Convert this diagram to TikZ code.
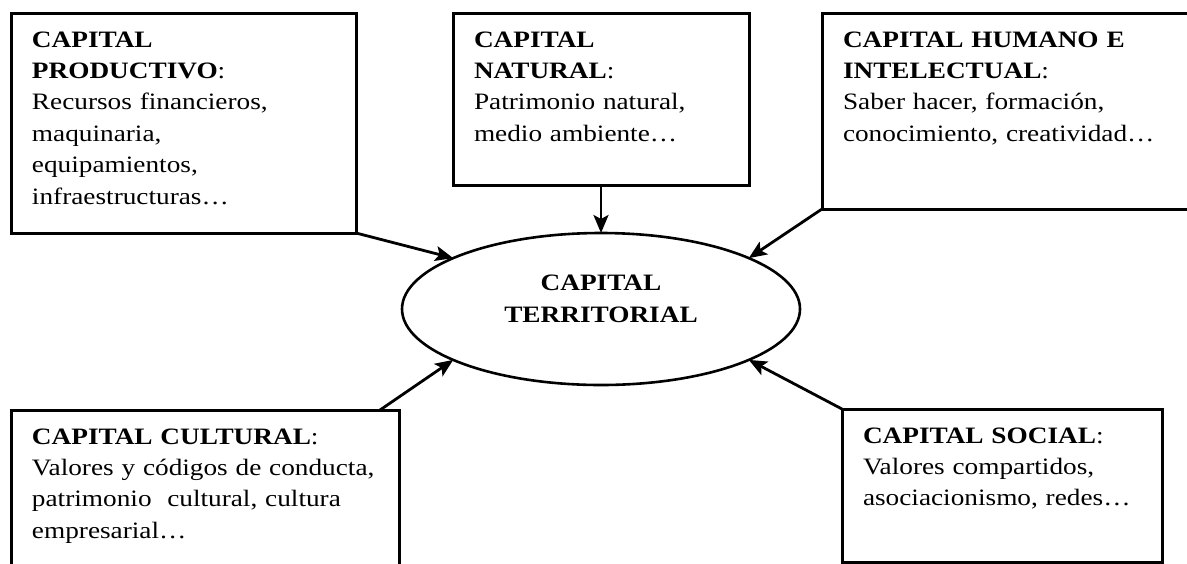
\documentclass[tikz,border=0pt]{standalone}
\usepackage{fontspec}
\setmainfont{Liberation Serif}[FakeStretch=1.16]
\usetikzlibrary{arrows.meta, shapes.geometric}

\begin{document}
\begin{tikzpicture}[
  x=0.5pt, y=-0.5pt,
  box/.style={draw, line width=1.5pt, outer sep=0pt, anchor=north west, align=left, inner xsep=10.5pt, inner ysep=0pt, text height=17pt, font=\fontsize{11.75}{15.7}\selectfont},
  hub/.style={draw, ellipse, line width=1.3pt, outer sep=0pt, minimum width=199pt, minimum height=76pt, inner sep=0pt, align=center, text height=23.7pt, text depth=10.7pt, font=\fontsize{11.75}{15.7}\selectfont\bfseries},
  arrow/.style={-{Stealth[length=9pt, width=7.5pt, inset=2pt]}, line width=1.4pt}
]
\clip (0,0) rectangle (1187,563);

\node[box, text width=151.5pt, text depth=93pt] (prod) at (11,13) {\textbf{CAPITAL}\\\textbf{PRODUCTIVO}:\\Recursos financieros,\\maquinaria,\\equipamientos,\\infraestructuras\ldots};
\node[box, text width=127pt, text depth=69pt] (nat) at (453,13) {\textbf{CAPITAL}\\\textbf{NATURAL}:\\Patrimonio natural,\\medio ambiente\ldots};
\node[box, text width=190pt, text depth=81pt] (hum) at (822,13) {\textbf{CAPITAL HUMANO E}\\\textbf{INTELECTUAL}:\\Saber hacer, formación,\\conocimiento, creatividad\ldots};
\node[box, text width=173pt, text depth=68pt] (cult) at (11,410) {\textbf{CAPITAL CULTURAL}:\\Valores y códigos de conducta,\\patrimonio\ \ cultural, cultura\\empresarial\ldots};
\node[box, text width=139pt, text depth=59.5pt] (soc) at (842,409) {\textbf{CAPITAL SOCIAL}:\\Valores compartidos,\\asociacionismo, redes\ldots};

\node[hub] (terr) at (601,309) {CAPITAL\\TERRITORIAL};

\draw[arrow] (prod.south east) -- (terr.161);
\draw[arrow] (nat.south) -- (terr.north);
\draw[arrow] (hum.south west) -- (terr.19);
\draw[arrow] ([xshift=-9.5pt]cult.north east) -- (terr.199);
\draw[arrow] (soc.north west) -- (terr.341);

\end{tikzpicture}
\end{document}
